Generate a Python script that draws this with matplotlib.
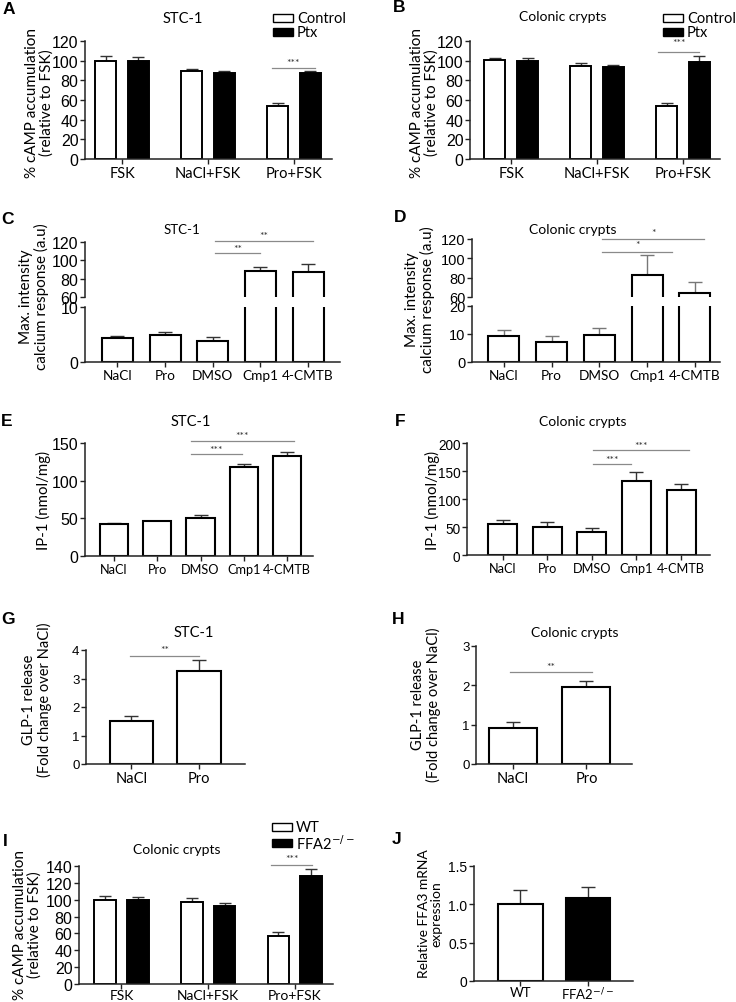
import numpy as np
import matplotlib
matplotlib.use("Agg")
import matplotlib.pyplot as plt
from matplotlib.patches import Rectangle

plt.rcParams['font.family'] = ['Lato', 'DejaVu Sans']

# ---- data ----
camp_groups = ['FSK', 'NaCl+FSK', 'Pro+FSK']
a_ctrl = [100, 89, 54]
a_ctrl_err = [5, 3, 3]
a_ptx = [100, 87, 87]
a_ptx_err = [4, 3, 2]

b_ctrl = [101, 95, 54]
b_ctrl_err = [2, 3, 3]
b_ptx = [100, 94, 99]
b_ptx_err = [3, 2, 6]

agonists = ['NaCl', 'Pro', 'DMSO', 'Cmp1', '4-CMTB']
c_vals = [4.3, 5.0, 3.9, 88, 87.4]
c_err = [0.5, 0.4, 0.6, 4.4, 8.6]
d_vals = [9.4, 7.0, 9.6, 83, 64.6]
d_err = [2.0, 2.2, 2.5, 20.7, 11.4]

e_vals = [42, 46, 51, 118.4, 132.6]
e_err = [1.4, 1.0, 3.0, 4.0, 6.0]
f_vals = [55.5, 50.7, 41.8, 133, 116.4]
f_err = [7.5, 7.8, 6.5, 15, 9.6]

glp_groups = ['NaCl', 'Pro']
g_vals = [1.5, 3.25]
g_err = [0.2, 0.4]
h_vals = [0.92, 1.97]
h_err = [0.14, 0.13]

i_wt = [99.5, 97.2, 57.5]
i_wt_err = [5, 5, 4]
i_ko = [100, 92.4, 127.6]
i_ko_err = [3, 3.6, 9]

j_groups = ['WT', 'FFA2$^{-/-}$']
j_vals = [1.0, 1.086]
j_err = [0.19, 0.14]

W, H = 736, 1003
fig = plt.figure(figsize=(W / 100, H / 100), dpi=100)
DARK = '#222222'


def px_axes(l, t, r, b):
    return fig.add_axes([l / W, 1 - b / H, (r - l) / W, (b - t) / H])


def style(ax, bottom=True):
    for s in ['top', 'right']:
        ax.spines[s].set_visible(False)
    ax.spines['left'].set_linewidth(1.1)
    ax.spines['left'].set_color(DARK)
    ax.spines['bottom'].set_linewidth(1.1)
    ax.spines['bottom'].set_color(DARK)
    if not bottom:
        ax.spines['bottom'].set_visible(False)
        ax.tick_params(axis='x', bottom=False, labelbottom=False)
    ax.tick_params(length=3.5, width=1.0, color=DARK, pad=1.2)


def yticks(ax, ticks, labels, size):
    ax.set_yticks(ticks)
    ax.set_yticklabels(labels, fontfamily='Liberation Sans', fontsize=size)


def xticks(ax, labels, size=10.5):
    ax.set_xticks(np.arange(len(labels)))
    ax.set_xticklabels(labels, fontsize=size)


def bars(ax, vals, err, w=0.65, colors=None, ecolor='#333333'):
    x = np.arange(len(vals))
    if colors is None:
        colors = ['white'] * len(vals)
    ax.bar(x, vals, w, color=colors, edgecolor='black', linewidth=1.5, zorder=2)
    ax.errorbar(x, vals, yerr=[np.zeros(len(vals)), err], fmt='none',
                ecolor=ecolor, elinewidth=1.0, capsize=5, capthick=1.0, zorder=1)


def grouped(ax, v1, e1, v2, e2, off=0.19, w=0.245):
    x = np.arange(len(v1))
    ax.bar(x - off, v1, w, color='white', edgecolor='black', linewidth=1.4, zorder=2)
    ax.bar(x + off, v2, w, color='black', edgecolor='black', linewidth=1.4, zorder=2)
    ax.errorbar(x - off, v1, yerr=[np.zeros(len(v1)), e1], fmt='none',
                ecolor='#333333', elinewidth=1.0, capsize=4, capthick=1.0, zorder=1)
    ax.errorbar(x + off, v2, yerr=[np.zeros(len(v2)), e2], fmt='none',
                ecolor='#333333', elinewidth=1.0, capsize=4, capthick=1.0, zorder=1)


def sig(ax, x1, x2, y, ty, text):
    ax.plot([x1, x2], [y, y], color='#8a8a8a', lw=0.9, clip_on=False, zorder=3)
    ax.text((x1 + x2) / 2, ty, text, ha='center', va='center', fontsize=7.5,
            color='#333333', clip_on=False)


def ylab(x, y, text, size=11):
    fig.text(x / W, 1 - y / H, text, rotation=90, ha='center', va='center',
             fontsize=size, linespacing=1.05)


def title(x, y, text, size=10.5):
    fig.text(x / W, 1 - y / H, text, ha='center', va='center', fontsize=size)


def letter(x, y, text):
    fig.text(x / W, 1 - y / H, text, ha='center', va='center', fontsize=12.5,
             fontweight='bold', fontfamily='Liberation Sans')


def legend_box(x, y, fc, text):
    fig.add_artist(Rectangle((x / W, 1 - (y + 4) / H), 20 / W, 8 / H,
                             transform=fig.transFigure, facecolor=fc,
                             edgecolor='black', linewidth=1.0))
    fig.text((x + 24) / W, 1 - y / H, text, ha='left', va='center', fontsize=10.5)


# ---- A ----
ax = px_axes(85, 42, 332, 160)
grouped(ax, a_ctrl, a_ctrl_err, a_ptx, a_ptx_err)
ax.set_ylim(0, 120)
ax.set_xlim(-0.43, 2.44)
style(ax)
yticks(ax, range(0, 121, 20), [str(v) for v in range(0, 121, 20)], 11.5)
xticks(ax, camp_groups)
sig(ax, 1.74, 2.24, 93, 98, '***')
title(183, 19, 'STC-1')
ylab(39, 103, '% cAMP accumulation\n(relative to FSK)')
legend_box(273, 19, 'white', 'Control')
legend_box(273, 33, 'black', 'Ptx')
letter(9, 10, 'A')

# ---- B ----
ax = px_axes(470, 42, 720, 160)
grouped(ax, b_ctrl, b_ctrl_err, b_ptx, b_ptx_err)
ax.set_ylim(0, 120)
ax.set_xlim(-0.48, 2.43)
style(ax)
yticks(ax, range(0, 121, 20), [str(v) for v in range(0, 121, 20)], 11.5)
xticks(ax, camp_groups)
sig(ax, 1.71, 2.19, 109, 118, '***')
title(563, 17, 'Colonic crypts', 10)
ylab(424, 103, '% cAMP accumulation\n(relative to FSK)')
legend_box(663, 19, 'white', 'Control')
legend_box(663, 33, 'black', 'Ptx')
letter(399, 8, 'B')

# ---- C (broken axis) ----
top = px_axes(85, 243, 340, 298)
bot = px_axes(85, 308, 340, 363)
for a in (top, bot):
    bars(a, c_vals, c_err)
    a.set_xlim(-0.68, 4.67)
top.set_ylim(60, 120)
bot.set_ylim(0, 10)
style(top, bottom=False)
style(bot)
yticks(top, [60, 80, 100, 120], ['60', '80', '100', '120'], 11.5)
yticks(bot, [0, 10], ['0', '10'], 11.5)
xticks(bot, agonists, 9.8)
sig(top, 2.05, 2.99, 108, 113, '**')
sig(top, 2.05, 4.1, 121, 127, '**')
title(182, 230, 'STC-1', 9.5)
ylab(34, 297, 'Max. intensity\ncalcium response (a.u)')
letter(8, 220, 'C')

# ---- D (broken axis) ----
top = px_axes(472, 240, 720, 298)
bot = px_axes(472, 307, 720, 363)
for a in (top, bot):
    bars(a, d_vals, d_err, ecolor='#777777')
    a.set_xlim(-0.67, 4.53)
top.set_ylim(60, 120)
bot.set_ylim(0, 20)
style(top, bottom=False)
style(bot)
yticks(top, [60, 80, 100, 120], ['60', '80', '100', '120'], 10.5)
yticks(bot, [0, 10, 20], ['0', '10', '20'], 10.5)
xticks(bot, agonists, 9.8)
sig(top, 2.06, 3.53, 107, 114, '*')
sig(top, 2.06, 4.2, 120, 126.5, '*')
title(573, 230, 'Colonic crypts', 10)
ylab(420, 300, 'Max. intensity\ncalcium response (a.u)')
letter(400, 218, 'D')

# ---- E ----
ax = px_axes(85, 444, 313, 557)
bars(ax, e_vals, e_err)
ax.set_ylim(0, 150)
ax.set_xlim(-0.67, 4.6)
style(ax)
yticks(ax, [0, 50, 100, 150], ['0', '50', '100', '150'], 11.5)
xticks(ax, agonists, 9.2)
sig(ax, 1.77, 2.97, 135, 142, '***')
sig(ax, 1.77, 4.16, 153, 160, '***')
title(191, 422, 'STC-1')
ylab(43, 500, 'IP-1 (nmol/mg)', 10.8)
letter(7, 422, 'E')

# ---- F ----
ax = px_axes(467, 444, 710, 556)
bars(ax, f_vals, f_err)
ax.set_ylim(0, 200)
ax.set_xlim(-0.8, 4.65)
style(ax)
yticks(ax, [0, 50, 100, 150, 200], ['0', '50', '100', '150', '200'], 9.8)
xticks(ax, agonists, 9.2)
sig(ax, 2.02, 2.88, 162, 171, '***')
sig(ax, 2.02, 4.18, 188, 195, '***')
title(583, 422, 'Colonic crypts', 10)
ylab(432, 500, 'IP-1 (nmol/mg)', 10.8)
letter(400, 421, 'F')

# ---- G ----
ax = px_axes(86, 651, 245, 765)
bars(ax, g_vals, g_err, w=0.64)
ax.set_ylim(0, 4)
ax.set_xlim(-0.67, 1.68)
style(ax)
yticks(ax, range(5), [str(v) for v in range(5)], 9.5)
xticks(ax, glp_groups)
sig(ax, -0.02, 1.0, 3.78, 4.0, '**')
title(194, 633, 'STC-1')
ylab(37, 700, 'GLP-1 release\n(Fold change over NaCl)', 10.5)
letter(8, 620, 'G')

# ---- H ----
ax = px_axes(476, 647, 632, 765)
bars(ax, h_vals, h_err, w=0.65)
ax.set_ylim(0, 3)
ax.set_xlim(-0.5, 1.62)
style(ax)
yticks(ax, range(4), [str(v) for v in range(4)], 9.5)
xticks(ax, glp_groups)
sig(ax, -0.04, 1.07, 2.33, 2.48, '**')
title(575, 633, 'Colonic crypts', 10)
ylab(426, 705, 'GLP-1 release\n(Fold change over NaCl)', 10.5)
letter(398, 620, 'H')

# ---- I ----
ax = px_axes(79, 867, 333, 985)
grouped(ax, i_wt, i_wt_err, i_ko, i_ko_err, w=0.25)
ax.set_ylim(0, 140)
ax.set_xlim(-0.49, 2.44)
style(ax)
yticks(ax, range(0, 141, 20), [str(v) for v in range(0, 141, 20)], 11.5)
xticks(ax, camp_groups, 10)
ax.tick_params(axis='x', pad=0)
sig(ax, 1.73, 2.2, 141.5, 149, '***')
title(177, 850, 'Colonic crypts', 10)
ylab(27, 925, '% cAMP accumulation\n(relative to FSK)')
legend_box(272, 828, 'white', 'WT')
legend_box(272, 844, 'black', 'FFA2$^{-/-}$')
letter(5, 842, 'I')

# ---- J ----
ax = px_axes(474, 867, 633, 982)
bars(ax, j_vals, j_err, w=0.66, colors=['white', 'black'])
ax.set_ylim(0, 1.5)
ax.set_xlim(-0.69, 1.67)
style(ax)
yticks(ax, [0, 0.5, 1.0, 1.5], ['0', '0.5', '1.0', '1.5'], 10)
xticks(ax, j_groups, 9.5)
ax.tick_params(axis='x', pad=0)
ylab(430, 914, 'Relative FFA3 mRNA\nexpression', 10)
letter(397, 840, 'J')

fig.savefig('out.png', dpi=100)
